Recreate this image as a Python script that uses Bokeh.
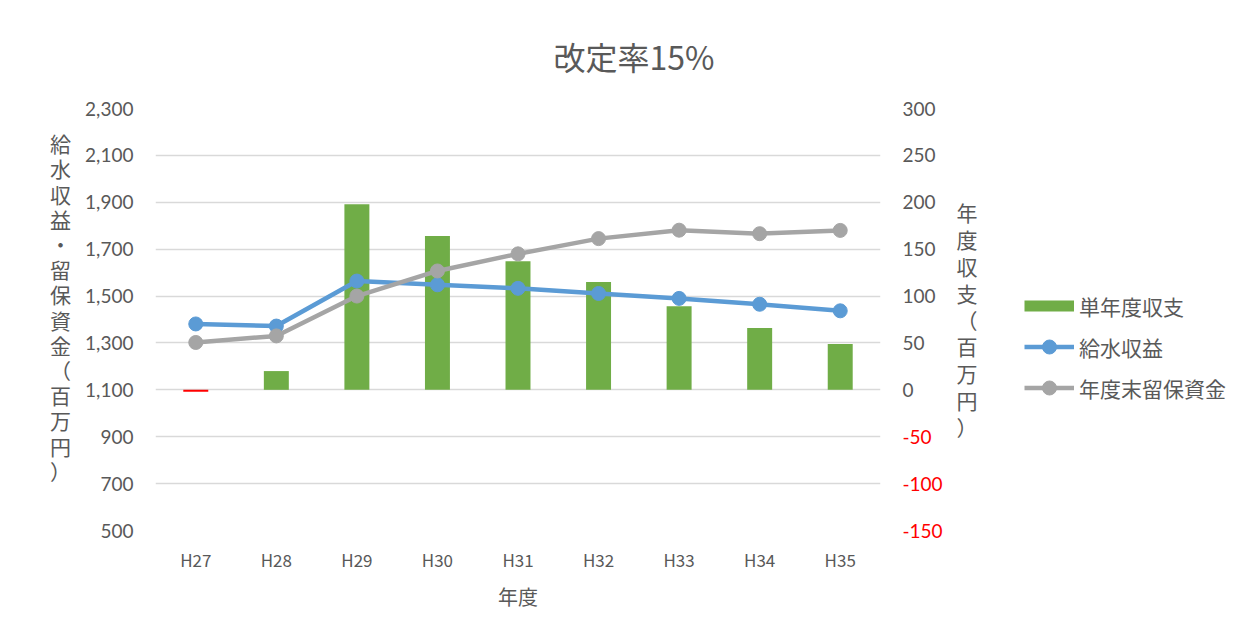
from bokeh.plotting import figure
from bokeh.layouts import row
from bokeh.models import (ColumnDataSource, Range1d, FactorRange, LinearAxis, FixedTicker,
                          Legend, LegendItem, NumeralTickFormatter)
from bokeh.embed import file_html
from bokeh.resources import INLINE

# ---- data ----
years = ["H27", "H28", "H29", "H30", "H31", "H32", "H33", "H34", "H35"]
balance = [-2, 20, 198, 164, 137, 115, 89, 66, 49]                 # 単年度収支 (right axis)
revenue = [1381, 1372, 1564, 1548, 1533, 1511, 1490, 1465, 1437]  # 給水収益 (left axis)
reserve = [1302, 1330, 1500, 1607, 1680, 1745, 1781, 1766, 1780]  # 年度末留保資金 (left axis)
left_ticks = [500, 700, 900, 1100, 1300, 1500, 1700, 1900, 2100, 2300]
right_ticks_pos = [0, 50, 100, 150, 200, 250, 300]
right_ticks_neg = [-150, -100, -50]
series_names = ["単年度収支", "給水収益", "年度末留保資金"]

title_text = "改定率15%"
left_title = "給水収益・留保資金（百万円）"
right_title = "年度収支（百万円）"
x_title = "年度"

TXT = "#595959"
GREEN, BLUE, GRAY = "#70AD47", "#5B9BD5", "#A5A5A5"
JP = "Noto Sans CJK JP"
NUM = "Lato"

FW, FH = 725, 422
H = 613
TOP = 91
BOTTOM = 100
p = figure(width=990, height=H, frame_width=FW, frame_height=FH,
           x_range=FactorRange(*years, range_padding=0),
           y_range=Range1d(500, 2300),
           output_backend="svg", toolbar_location=None,
           min_border_left=155, min_border_right=110, min_border_top=TOP, min_border_bottom=BOTTOM)
p.outline_line_color = None
p.extra_y_ranges = {"right": Range1d(-150, 300)}

# title
p.title.text = title_text
p.title.align = "left"
p.title.offset = 398
p.title.standoff = 60
p.title.text_font = JP
p.title.text_font_size = "32px"
p.title.text_font_style = "normal"
p.title.text_color = TXT

def style_axis(a, size="19px", font=NUM, color=TXT, standoff=16):
    a.axis_line_color = None
    a.major_tick_line_color = None
    a.minor_tick_line_color = None
    a.major_label_standoff = standoff
    a.major_label_text_font = font
    a.major_label_text_font_size = size
    a.major_label_text_color = color

# left axis
ax = p.yaxis[0]
ax.ticker = FixedTicker(ticks=left_ticks)
ax.formatter = NumeralTickFormatter(format="0,0")
style_axis(ax)
ax.axis_label = "\n".join(left_title) + "\n"
ax.axis_label_orientation = "horizontal"
ax.axis_label_standoff = 11
ax.axis_label_text_font = JP
ax.axis_label_text_font_size = "21px"
ax.axis_label_text_font_style = "normal"
ax.axis_label_text_color = TXT
ax.axis_label_text_line_height = 0.84

# right axis: non-negative ticks (gray)
rax = LinearAxis(y_range_name="right", ticker=FixedTicker(ticks=right_ticks_pos),
                 formatter=NumeralTickFormatter(format="0"))
style_axis(rax)
p.add_layout(rax, "right")

# right axis: negative ticks (red), overlapping the first one
rax2 = LinearAxis(y_range_name="right", ticker=FixedTicker(ticks=right_ticks_neg),
                  formatter=NumeralTickFormatter(format="0"))
style_axis(rax2, color="#FF0000", standoff=-42)
rax2.axis_label = "\n".join(right_title)
rax2.axis_label_orientation = "horizontal"
rax2.axis_label_standoff = 11
rax2.axis_label_text_font = JP
rax2.axis_label_text_font_size = "21px"
rax2.axis_label_text_font_style = "normal"
rax2.axis_label_text_color = TXT
rax2.axis_label_text_line_height = 0.897
p.add_layout(rax2, "right")

# x axis
xa = p.xaxis[0]
style_axis(xa, size="17px", font=JP, standoff=10)
xa.axis_label = x_title
xa.axis_label_standoff = 7
xa.axis_label_text_font = JP
xa.axis_label_text_font_size = "20px"
xa.axis_label_text_font_style = "normal"
xa.axis_label_text_color = TXT

p.xgrid.grid_line_color = None
p.ygrid.ticker = FixedTicker(ticks=left_ticks)
p.ygrid.grid_line_color = "#D9D9D9"
p.ygrid.grid_line_width = 1.5

# bars
colors = ["#FF0000" if v < 0 else GREEN for v in balance]
src = ColumnDataSource(dict(x=years, top=balance, c=colors))
p.vbar(x="x", top="top", bottom=0, width=0.31, fill_color="c", line_color=None,
       source=src, y_range_name="right")

# lines
p.line(years, revenue, line_color=BLUE, line_width=4.5)
p.scatter(years, revenue, size=14, fill_color=BLUE, line_color=BLUE)
p.line(years, reserve, line_color=GRAY, line_width=4.5)
p.scatter(years, reserve, size=14, fill_color=GRAY, line_color=GRAY)

# ---- legend panel (separate canvas to the right; its series lie outside its view) ----
q = figure(width=251, height=H, x_range=Range1d(100, 101), y_range=Range1d(-1000, -999),
           output_backend="svg", toolbar_location=None,
           min_border_left=34, min_border_right=0, min_border_top=TOP, min_border_bottom=BOTTOM)
q.axis.visible = False
q.grid.grid_line_color = None
q.outline_line_color = None
idx = list(range(len(years)))
lb = q.line(x=idx, y=balance, line_color=GREEN, line_width=11, line_cap="butt")
lr1 = q.line(x=idx, y=revenue, line_color=BLUE, line_width=4.5)
lc1 = q.scatter(x=idx, y=revenue, size=14, fill_color=BLUE, line_color=BLUE)
lr2 = q.line(x=idx, y=reserve, line_color=GRAY, line_width=4.5)
lc2 = q.scatter(x=idx, y=reserve, size=14, fill_color=GRAY, line_color=GRAY)

legend = Legend(items=[LegendItem(label=series_names[0], renderers=[lb]),
                       LegendItem(label=series_names[1], renderers=[lr1, lc1]),
                       LegendItem(label=series_names[2], renderers=[lr2, lc2])],
                location=(0, 108), orientation="vertical")
legend.glyph_width = 50
legend.glyph_height = 35
legend.label_height = 20
legend.spacing = 6
legend.padding = 0
legend.margin = 0
legend.label_standoff = 5
legend.border_line_color = None
legend.background_fill_alpha = 0
legend.label_text_font = JP
legend.label_text_font_size = "21px"
legend.label_text_color = TXT
q.add_layout(legend, "center")

layout = row(p, q, spacing=0)
open("out.html", "w").write(file_html(layout, INLINE))
